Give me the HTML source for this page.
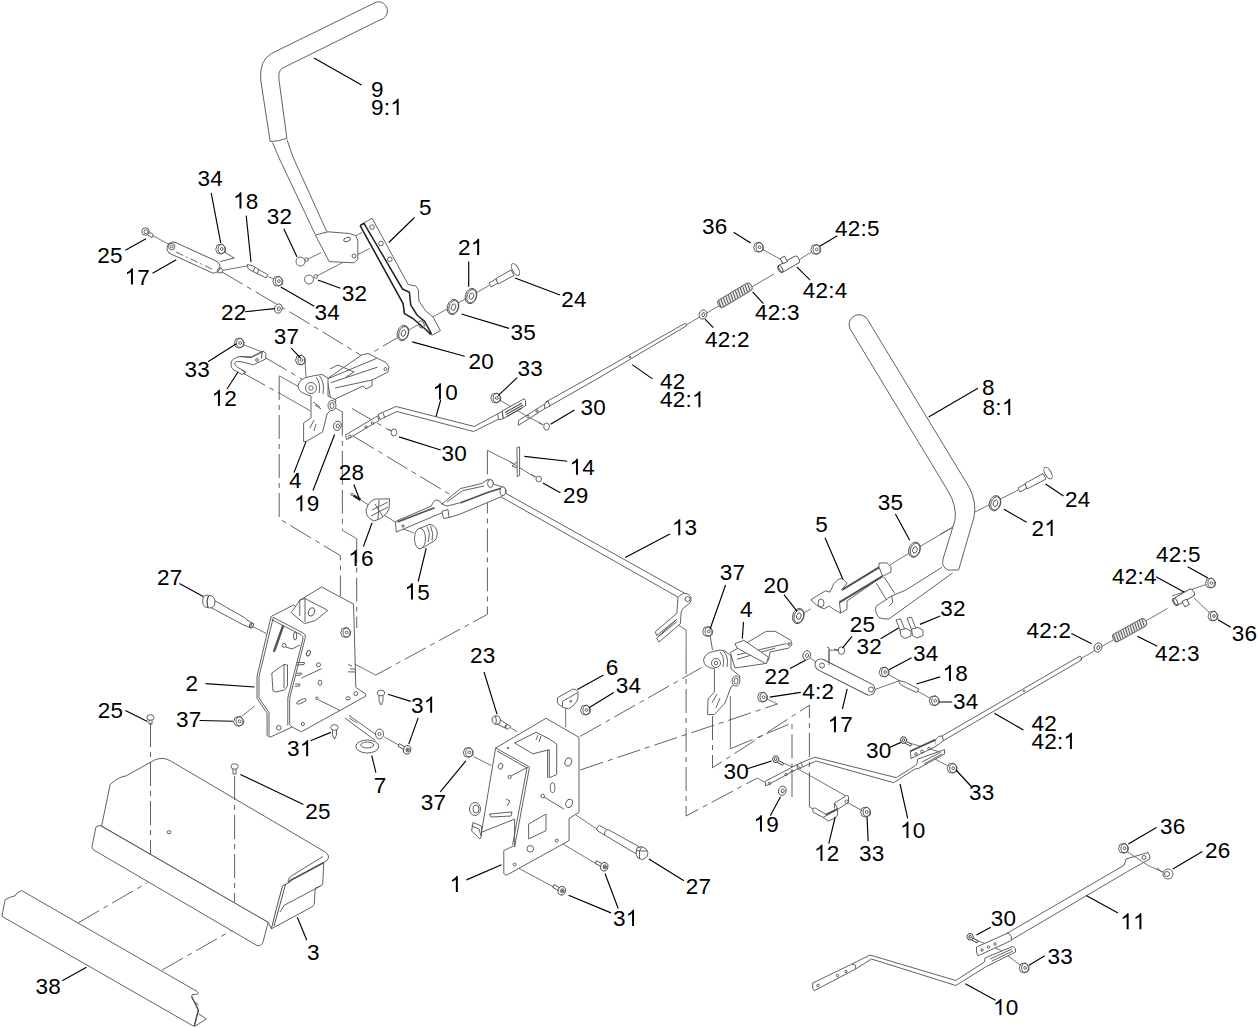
<!DOCTYPE html>
<html><head><meta charset="utf-8"><style>
html,body{margin:0;padding:0;background:#fff;width:1258px;height:1028px;overflow:hidden}
svg{display:block}
.p{stroke:#505050;stroke-width:0.9;fill:none;stroke-linejoin:round}
.d{stroke:#505050;stroke-width:0.9;fill:none;stroke-dasharray:24 5 5 5}
.t{stroke:#505050;stroke-width:0.8;fill:none}
.l{stroke:#000;stroke-width:1.15;fill:none}
text{font-family:"Liberation Sans",sans-serif;font-size:22.5px;letter-spacing:0.25px;fill:#000}
</style></head><body>
<svg width="1258" height="1028" viewBox="0 0 1258 1028">
<defs><path id="one" d="M8.383,0H6.405V-12.601Q5.691,-11.920 4.532,-11.239Q3.373,-10.558 2.450,-10.217V-12.129Q4.109,-12.909 5.350,-14.019Q6.592,-15.128 7.108,-16.172H8.383Z"/><g id="nut" stroke="#505050" stroke-width="0.9"><path d="M-5,0.5 L-3.5,-4 L1.5,-5 L5,-1 L4.5,3 L0.5,5 L-3.5,4 Z" fill="#fff"/><ellipse cx="0.8" cy="0" rx="3.4" ry="4.4" fill="none"/><circle cx="1" cy="0" r="1.4" fill="none"/></g>
<g id="wb" stroke="#505050" stroke-width="0.9" fill="none"><ellipse rx="5.6" ry="7.8" fill="#fff" transform="rotate(18)"/><ellipse cx="0.6" rx="4.6" ry="6.8" transform="rotate(18)"/><ellipse cx="0.5" rx="2.2" ry="3.3" transform="rotate(18)"/></g>
<g id="ws" stroke="#505050" stroke-width="0.9" fill="none"><ellipse rx="3.8" ry="4.7" fill="#fff" transform="rotate(18)"/><ellipse cx="0.4" rx="1.5" ry="2" transform="rotate(18)"/></g>
<g id="pin" stroke="#404040" stroke-width="1"><path d="M2.5,0.5 L8,3.5 L7,5.5 L1.5,2.5 Z" fill="#fff"/><path d="M-3.2,-1 L-1.5,-3.8 L1.8,-3.6 L3.4,-0.6 L1.8,2.4 L-1.5,2.6 Z" fill="#fff"/><circle cx="0" cy="-0.6" r="1.3" fill="none"/></g>
<g id="scr" stroke="#404040" stroke-width="0.9"><path d="M-1.5,-2.5 L-7.5,-5.8 L-8.8,-3.2 L-2.8,0.2 Z" fill="#fff"/><ellipse cx="0.3" cy="0.2" rx="3.6" ry="4.3" fill="#fff" transform="rotate(15)"/><ellipse cx="0.8" cy="0.4" rx="1.7" ry="2.1" fill="none"/><path d="M-0.3,0.4 L1.9,0.4 M0.8,-0.8 L0.8,1.6" fill="none"/></g>
</defs>
<!-- ===== dashed phantom lines ===== -->
<g class="d">
<!-- from 17 through 22 to part4 area -->
<path d="M222,272 L300,318 L362,356"/>
<!-- washer 20 to part4 -->
<path d="M403.5,334 L360.8,359.4"/>
<!-- 12 pin long dashed to rod 10 bracket and beyond -->
<path d="M244,373.7 L278,392.4 M353.4,436.2 L455,497.5"/>
<path d="M266,358 L305,381 M352,408.5 L390,430.5"/>
<!-- left box verticals -->
<path d="M279.2,376 L279.2,518.8 L340.4,555.6 L340.4,596"/>
<path d="M342.3,411.8 L342.4,530.4"/>
<path d="M356.7,538.6 L356.7,628"/>
<!-- right box near 13 -->
<path d="M487.4,450.4 L487.4,614.3 L375.8,675.1"/>
<!-- diagonal from 4 down to 16 area -->
<!-- from plate 2 to right -->
<!-- 25 screws to box 3 -->
<!-- 38 to 3 -->
<path d="M78.4,922.7 L147.3,882.7"/>
<path d="M162.2,970 L231,930.8"/>
<!-- plate 1 to right assembly -->
<path d="M580.3,736.3 L701.4,667.7"/>
<path d="M580.3,769.9 L777.4,704"/>
<!-- big right dashed boxes -->
<path d="M686.1,650 L686.1,816 L757.3,778"/>
<path d="M712.5,716 L712.5,767.8 L809.4,705.2 L809.4,786"/>
<path d="M730.4,748.8 L792,723 L792,797"/>
<path d="M955,525.9 L940,534.5"/>
<!-- 42:1 lower bracket to 12 lower -->
</g>
<!-- ===== thin axis lines ===== -->
<g class="t">
<path d="M153.2,235.9 L168.7,244.2"/>
<path d="M222.4,270.4 L248.6,265.7"/>
<path d="M267.7,276.4 L277,280.5"/>
<path d="M307.7,259.2 L321.2,252.5 M354,236.8 L362,232.4"/>
<path d="M316.8,276 L342.3,262.8 M357.8,254.5 L369.7,248.5"/>
<path d="M403,333 L449,308 M458,303 L467,298 M476,293 L489,285.5"/>
<path d="M239.2,343 L265.7,353.4"/>
<path d="M305,362 L307,392"/>
<path d="M487.4,450.4 L513.6,463.6"/>
<path d="M279.2,375.8 L298,386.3"/>
<path d="M278,392.4 L310.3,410.8"/>
<path d="M334.8,407.7 L342.7,412.1"/>
<path d="M360.2,499.6 L395,522"/>
<path d="M401,528 L414,533"/>
<path d="M498,399 L529,417.4 L542,424"/>
<path d="M510,462 L535,477"/>
<path d="M686,325 L774,274"/>
<path d="M758.6,247.2 L780,259 M797,261 L815.8,249.4"/>
<path d="M252,626.3 L266.4,633.5"/>
<path d="M241.5,716.5 L254.7,706"/>
<path d="M350,661.6 L375.8,675.1"/>
<path d="M342.4,530.4 L356.7,538.6"/>
<path d="M384.3,737 L401.5,746.5"/>
<path d="M349,718 L357,723"/>
<path d="M510.3,727.5 L517.5,732"/>
<path d="M473.8,756.7 L491.3,765.5"/>
<path d="M565.7,707 L565.7,727.5"/>
<path d="M575.9,815 L597.8,829.7"/>
<path d="M558.4,841.4 L597.8,864.7"/>
<path d="M517.5,867.6 L555.5,888"/>
<path d="M798.3,616 L810.7,609 M821.5,603.4 L880,570 M890,565 L914.5,549.7 L955,525.9 M975,512 L1018.2,490"/>
<path d="M806.7,655.4 L818.6,663.7"/>
<path d="M765,698 L777.4,704"/>
<path d="M678.8,625.3 L686.1,630 L686.1,650"/>
<path d="M757.3,778 L765.1,782.4"/>
<path d="M730.4,696 L730.4,748.8"/>
<path d="M841.3,650.6 L829,650 L829,665"/>
<path d="M873.4,690 L898.5,681 M884.2,672 L934.3,700.7"/>
<path d="M903.3,741.3 L940,752"/>
<path d="M775.4,759.8 L800,770 L846,796"/>
<path d="M952.2,768.2 L935,759"/>
<path d="M1080.3,659 L1167.5,608.4"/>
<path d="M1172,596 L1210.5,583"/>
<path d="M1194,598 L1213,616"/>
<path d="M1123.2,849 L1149,866 L1167.8,874.1"/>
<path d="M970.1,937.4 L1000,950 L1024.2,967.9"/>
</g>
<g class="p">
<!-- ===== Handle 9 ===== -->
<path d="M376.7,1.9 L271.8,53.3 Q259,60.5 260.7,80 L270.2,141.5 Q279,141.5 286.9,138.3 L279,80 Q278,71 282,68.4 L380,19.9 A9,9 0 0 0 376.7,1.9 Z" fill="#fff"/>
<path d="M272.5,142.5 Q276,151 280,160 L315,234"/>
<path d="M287,139.5 Q290,149 293,157 L326.8,231.8"/>
<!-- bracket at bottom of handle 9 -->
<path d="M315.3,235 L328,231.8 L349.4,233.5 L355.4,235.4 L357.8,240 L357.8,259.2 L354.2,262.8 L329.2,261.6 Z" fill="#fff"/>
<ellipse cx="347" cy="239.5" rx="3.5" ry="2" transform="rotate(-20 347 239.5)"/>
<circle cx="354" cy="256" r="2"/>
<!-- ===== Part 5 top bar ===== -->
<path d="M360.1,225.2 L372.1,218.2 L408.2,284.6 L415.7,285.9 L418.3,289.6 L418.9,301 L425.9,311.1 L433.4,317.5 L440.4,330.7 L432.2,335.2 L430.9,334.5 L424,328 L413.2,318.7 L404.4,313.7 L403.1,303.6 Z" fill="#fff"/>
<path d="M360.1,225.6 L364,223.3 L402.5,289 L409.4,292.2 L410.7,304.8 L417,315 L424.6,321.3 L431.5,333.8 M360.1,225.6 L403.1,303.6 L404.4,313.7 L413.2,318.7 L424,328 L430.9,334.5" stroke="#222" stroke-width="1.5"/>
<circle cx="372.1" cy="227.1" r="2.3"/><circle cx="381" cy="243.5" r="2.3"/><circle cx="389.8" cy="259.3" r="2.3"/>
<ellipse cx="421.4" cy="324.4" rx="2.6" ry="3.6" transform="rotate(-25 421.4 324.4)"/>
<!-- washers 20 35 21 -->
<use href="#wb" x="403" y="333"/>
<use href="#wb" x="453" y="307"/>
<use href="#wb" x="471" y="296"/>
<!-- bolt 24 -->
<path d="M489,283 L496,279 L498,283 L491,287 Z" fill="#fff"/>
<path d="M496,278.5 L511,270 L514,275.5 L498,284 Z" fill="#fff"/>
<ellipse cx="515.5" cy="269.5" rx="3" ry="6.5" fill="#fff" transform="rotate(-30 515.5 269.5)"/>
<!-- 32 studs -->
<circle cx="300.5" cy="261.6" r="4.5" fill="#fff"/><circle cx="306.5" cy="259.6" r="1.8"/>
<circle cx="309" cy="279.5" r="4.5" fill="#fff"/><circle cx="315.8" cy="276.5" r="1.8"/>
<!-- ===== 17 top-left cylinder ===== -->
<rect x="-28.5" y="-6.2" width="57" height="12.4" rx="6.2" transform="translate(193.5,257.5) rotate(24.5)" fill="#fff"/>
<path d="M223.5,251.4 L234.3,258 L220,261.6"/>
<circle cx="171.7" cy="246.6" r="3.2"/><circle cx="171.7" cy="246.6" r="1.3"/><circle cx="220" cy="270.5" r="2.6"/>
<path d="M176,252 L214,270" stroke-dasharray="8 3 2 3"/>
<!-- 25 screw -->
<circle cx="145.5" cy="231.6" r="3.8" fill="#fff"/><circle cx="146" cy="231.8" r="2"/><path d="M148.5,231.5 L153.4,234.5 L152,237.5 L148,235.5"/>
<!-- 34 nut top -->
<use href="#nut" x="220.7" y="249"/>
<!-- 18 stud -->
<path d="M247.4,264.5 L253,266 L262,271.5 L267.7,274.5 L266,278 L260,275 L251,270.5 L248,268.5 Z" fill="#fff"/>
<path d="M255,267.5 L253,271.5 M259,269.5 L257,274"/>
<!-- 34 nut -->
<use href="#nut" x="277.9" y="281.2"/>
<!-- 22 washer -->
<use href="#ws" x="278.4" y="308.6"/>
<!-- 33 nut top-left -->
<use href="#nut" x="239.2" y="343"/>
<!-- ===== 12 top-left bracket ===== -->
<path d="M266,353.5 L263,351 L251.3,357 L240,356.5 Q232,358 231,363 Q230.5,367.5 233,369.5 L242,374.5 L245.6,372 L238,367.5 Q234.5,365.5 234.5,363 Q235.5,361 240,361.5 L253.5,364.8 L265.5,359 Z" fill="#fff"/>
<path d="M240,356.5 L251.3,357.5 L263,351.5 M262,352 L261.5,358.5" stroke-width="1"/>
<circle cx="257" cy="360" r="1.4"/>
<path d="M241.5,370 L245.5,372 L244,374.5"/>
</g>
<g class="p">
<!-- ===== Part 4 left ===== -->
<!-- arm -->
<path d="M327,379 L361.7,355 L368,353.5 L386,362.5 L389,367 L388,372 L384,374 L372,380 L372,386 L366,389 L363,386 L331,401 Z" fill="#fff"/>
<path d="M328.6,378.4 L376.3,358.5 M330.6,382.8 L377.3,367.2 M335,388 L372,380"/>
<path d="M330,369 L338,365 L354,372 L346,377"/>
<circle cx="385.5" cy="369" r="1.5"/>
<!-- body plate -->
<path d="M303.6,441.6 L303.6,423 L311,418 L311,396 Q298,393 298,386 Q299,379 308,377 L315,375.5 L322,374.5 L328,378 L328,396 L336,400 L334,407 L327,414 L322.6,432 L306,441.6 Z" fill="#fff"/>
<circle cx="311" cy="388" r="5.5"/><circle cx="311" cy="388" r="2.2"/>
<path d="M316,377 Q321,383 319,393 M319.5,376 Q325,383 323,394"/>
<path d="M313,402 L320,407 M315,405 L321,409"/>
<path d="M310,428 L314,420 M314,431 L316,424"/>
<!-- bushing -->
<ellipse cx="332" cy="405.5" rx="4" ry="5" fill="#fff"/><ellipse cx="332" cy="405.5" rx="2" ry="3"/>
<!-- washer 19 -->
<use href="#ws" x="337.4" y="425.8"/>
<!-- 37 nut top-left -->
<use href="#nut" x="300.5" y="360"/>
<!-- ===== Part 10 left ===== -->
<path d="M345.5,435 L377.7,415.9 L378.9,420.6 L346.7,439.7 Z" fill="#fff"/>
<circle cx="350" cy="436.5" r="1.4"/><circle cx="366" cy="427" r="1.2"/><circle cx="372.5" cy="423" r="1.2"/>
<path d="M378,414.5 L396,406.5 L474.3,426.5 L497.5,413.9"/>
<path d="M380,419.5 L397,411.5 L473.5,431.5 L498.7,419.1"/>
<path d="M378,414.5 L380,419.5 M383,413 L385,418"/>
<!-- right bracket of rod 10 -->
<path d="M497.5,413.9 L502.2,411.6 L503.4,418.6 L498.7,419.7 Z" fill="#fff"/>
<path d="M502.2,411 L524.4,398.7 L525.5,400.4 L525.5,405.7 L503.4,418.5 Z" fill="#fff"/>
<path d="M505,412.5 L522,403 M506,414.5 L523,405 M507,416.5 L522,408" stroke-width="1.1"/>
<!-- pin 30 left -->
<ellipse cx="394" cy="432.5" rx="2.8" ry="3.6" fill="#fff"/><path d="M388,429.5 L392,431"/>
<!-- 33 nut -->
<use href="#nut" x="495.8" y="398"/>
<!-- ===== rod 42:1 upper ===== -->
<path d="M518.4,420.6 L544.6,404 L544.6,408.7 L518.4,425.4 Z" fill="#fff"/>
<circle cx="528" cy="416.5" r="1.2"/><circle cx="537" cy="411" r="1.2"/>
<path d="M544.6,404 L548,401 L550,406 L544.6,408.7"/>
<path d="M545.4,402.2 L600,371.7 L684.7,323.5 Q687,323.5 686.5,325.8 L600,377.2 L549,406.3"/>
<circle cx="630" cy="357" r="0.8"/>
<!-- pin 30 right -->
<ellipse cx="546.5" cy="426.6" rx="2.8" ry="3.6" fill="#fff"/><path d="M539,423 L543.5,425"/>
<!-- 14 -->
<path d="M517,447.5 L519.6,446.9 L519.6,475.5 L517.2,476.7 Z" fill="#fff"/>
<path d="M517,462 L512,466 L517,468"/>
<!-- 29 screw -->
<circle cx="538.7" cy="479" r="2.8" fill="#fff"/><path d="M531,474.5 L536,477"/>
<!-- ===== spring / cable top ===== -->
<use href="#ws" x="703" y="314.5"/>
<g transform="translate(719.5,304.5) rotate(-31)">
<rect x="-1" y="-4.3" width="38" height="8.6" rx="3.5" fill="#e6e6e6" stroke="#606060"/>
<path d="M1.2,-4 L-0.3,4 M4.0,-4 L2.5,4 M6.8,-4 L5.3,4 M9.6,-4 L8.1,4 M12.4,-4 L10.9,4 M15.2,-4 L13.7,4 M18.0,-4 L16.5,4 M20.8,-4 L19.3,4 M23.6,-4 L22.1,4 M26.4,-4 L24.9,4 M29.2,-4 L27.7,4 M32.0,-4 L30.5,4 M34.8,-4 L33.3,4" stroke="#505050" stroke-width="0.9"/>
</g>
<g transform="translate(789,264) rotate(-30)">
<rect x="-11" y="-4" width="22" height="8" rx="3" fill="#fff"/>
<ellipse cx="-10" cy="0" rx="2" ry="4"/>
<rect x="-5" y="-9" width="5" height="6" fill="#fff"/>
</g>
<use href="#nut" x="758.6" y="247.2"/>
<use href="#nut" x="815.8" y="249.4"/>
<!-- ===== Handle 8 ===== -->
<path d="M849.9,328.6 L948,491 Q957,506 955,520 L943,559 Q941,567 948,570 L958.6,570 L974,517 Q977,502 969,487 L868.2,320.7 A9.3,9.3 0 0 0 849.9,328.6 Z" fill="#fff"/>
<path d="M942,567.3 L905.6,590.2 L891.6,596 L876.3,606.1 Q874,611 878.9,617.6 L884,618.9 L889,618.9 L952.6,573"/>
<path d="M891.6,596 L892.8,602.3 L889,606"/>
<path d="M876.3,583.2 L886.5,599.8 M884,576.9 L894.8,593.4"/>
<!-- bolts 32 right -->
<path d="M896,620 L900.5,618.9 L905,630 L900.5,631 Z" fill="#fff"/>
<path d="M900,630 L906,628.5 L911,631 L911,636 L905,638.5 L901,636 Z" fill="#fff"/>
<path d="M907,618 L911.5,617.2 L916,628.5 L911.5,629.5 Z" fill="#fff"/>
<path d="M911.5,629 L918,627.5 L923,630 L923,635.5 L917,638 L912.5,635.5 Z" fill="#fff"/>
<!-- ===== Part 5 right ===== -->
<path d="M810.8,599.8 L819,594.7 L825.4,590.9 L830,592.1 L833.7,583.9 L838.2,579.4 L842,578.2 L847,583.2 L842,589.6 L879,567.3 L879,563 L887,562.9 L891,567 L891,572 L882.7,576.2 L847,601 L847,609.3 L840.7,613.1 L833.7,609.3 L829.3,606.1 L824.2,608.7 L820.3,607.4 L816.5,604.9 Z" fill="#fff"/>
<path d="M842,590 L879,567.3 M839.4,602.3 L882.7,576.2" stroke-width="2"/>
<path d="M879,567.3 L882.7,576.2 M839.4,602.3 L840.7,613.1"/>
<ellipse cx="821" cy="603" rx="3" ry="4"/>
<!-- washers right -->
<use href="#wb" x="914.5" y="549.7"/>
<use href="#wb" x="995" y="503.2"/>
<!-- bolt 24 right -->
<path d="M1018,488 L1025,484 L1027,488 L1020,492 Z" fill="#fff"/>
<path d="M1025,483.5 L1043,473.5 L1046,479 L1027,489 Z" fill="#fff"/>
<ellipse cx="1048" cy="473" rx="3" ry="6.5" fill="#fff" transform="rotate(-30 1048 473)"/>
</g>
<g class="p">
<!-- ===== Part 13 rod ===== -->
<path d="M500,490.1 L684.4,593.1 M500,496.3 L678,597.1"/>
<path d="M678,597.5 L676.8,613.4 L655.4,631.7 L656.6,635.6 L676.5,619.5 L656.6,638 L659,642 L680.4,623.7 L681.2,611.8 L682.8,608.6 L690,603 Q693,597 688,594 Q682,592 678,597.5 Z" fill="#fff"/>
<circle cx="687.6" cy="599.1" r="2.5"/>
<path d="M658,637 L677,621.5"/>
<!-- ===== 13 bracket assembly ===== -->
<path d="M395.3,521.7 L397.4,520.6 L431.5,506 Q433,500 437,500 Q441,501 441.8,504.1 L460.4,488.6 L482.1,483.4 L488.3,479.3 Q493,479 493.5,484 L503.8,487.6 Q507,489 505.9,493 L500.7,496.9 L459.4,514.4 L449,517.5 L442.9,512.4 L396.4,532 Z" fill="#fff"/>
<path d="M397.4,522 L434.6,507.7 M460,503 L488.3,492.2 L503.8,487.6" stroke-width="1.6"/>
<path d="M447,502 L462.5,490.7 L484,486 M441.8,504.1 L447,506 L459.4,503"/>
<ellipse cx="490.4" cy="483.6" rx="2.8" ry="4" fill="#fff"/><ellipse cx="502.8" cy="491.2" rx="2.8" ry="4.3" fill="#fff"/>
<path d="M441.8,511.3 L448,509.5 L449,517.5 L443.5,518.5 Z" fill="#fff"/>
<circle cx="403" cy="526" r="1.2"/>
<!-- 16 knob -->
<path d="M368,505 Q372,498 380,499 L389.6,498.8 L389,509 Q385,518 374,521 Q366,518 366,510 Z" fill="#fff"/>
<path d="M372,510 L388,502 M375,504 L383,517 M371,516 L388,507 M379,500 L378,520"/>
<!-- 28 screw -->
<path d="M353.5,495.5 L360.5,499.8" stroke-width="2.6" stroke="#222"/><circle cx="352" cy="494.5" r="1.2"/>
<!-- 15 cap -->
<path d="M420,528.2 L430,524.3 Q437.3,526 437.3,534 Q437,541 430,543.3 L423,548" fill="#fff"/>
<ellipse cx="420" cy="538.5" rx="5.5" ry="10.3" fill="#fff"/>
<path d="M427,527 Q431,533 428,542 M430.5,526 Q434,533 432,541"/>
<!-- ===== Part 2 ===== -->
<path d="M271,616.6 L293.6,604.9 L296.7,607.2 L299.8,600.2 L321.6,587 L353.5,604.1 L354.3,629.8 L355.8,687.4 L365.2,693.6 L366,696 L301.4,731.8 L292,727 L270.2,737.2 L267.1,735.6 L267.1,713.1 L257,698.3 L257,676.5 Z" fill="#fff"/>
<path d="M273.3,617.4 L259,676.5 L259,698 L269,712.5 L269,735.5"/>
<path d="M273.3,617.4 L302.9,632.9 Q306,634.5 305.3,637.5 L292,689 L289.7,698.3 L289.7,724.7 L292,727"/>
<path d="M271.5,619.5 L301,634.8 Q303.5,636.3 303,639 L290,689 L287.8,698 L287.8,725.5"/>
<path d="M291.2,612.7 L299.8,600.2 L305,598.5 L327.8,610.4 L315.4,620.5 L304.5,623.6 Z" fill="#fff"/>
<path d="M299.8,600.2 L299.8,616 M305,598.5 L305,622"/>
<ellipse cx="311.5" cy="611.9" rx="3" ry="4.3" transform="rotate(20 311.5 611.9)"/>
<path d="M273.3,651.6 L282.7,625.1 M274.5,652 L283.8,625.5" stroke-width="1.2"/>
<ellipse cx="295.1" cy="636" rx="1.6" ry="4"/>
<circle cx="284.2" cy="645.4" r="2"/><path d="M286,647 L292,649 L300,645"/>
<ellipse cx="308.4" cy="653.2" rx="1.8" ry="2.8" transform="rotate(25 308.4 653.2)"/>
<circle cx="318.5" cy="664.8" r="2"/><ellipse cx="320" cy="682.7" rx="1.8" ry="2.6"/>
<ellipse cx="301.4" cy="701.4" rx="5" ry="1.6" transform="rotate(-25 301.4 701.4)"/>
<circle cx="316.9" cy="698.3" r="1.3"/><ellipse cx="348" cy="698.3" rx="2.2" ry="1.6"/><circle cx="302.9" cy="724" r="1.6"/><circle cx="355.8" cy="693.6" r="2"/>
<path d="M296.7,662.5 L304.5,662.5 L304,664.5 L296.5,665 M296.7,673.4 L301.4,673 L301,675 L296.3,675.5 M295.1,684.3 L299.8,684 L299.5,686 L294.8,686.5"/>
<path d="M271.8,673 L284,664.5 L287.5,665 L287.5,686 L284.5,690 M271.8,673 L273,691 L276,692 L284.5,690 M284,664.5 L284,688"/>
<path d="M348,664.5 L352,666 M350,669 L355.8,669 M348,671.8 L355.8,672"/>
<path d="M301.4,678 L321.6,668.7 M318.5,699.8 L340.3,710.7"/>
<circle cx="278.8" cy="727.8" r="2.3"/>
<use href="#nut" x="345.7" y="632.5"/>
<!-- 27 bolt left -->
<path d="M214.8,600.8 L245.3,618 L246,619.3 L252,622.8 L250.5,627.8 L249,627.2 L242.1,624.3 L209.1,606.5 Z" fill="#fff"/>
<ellipse cx="251.5" cy="625.5" rx="1.8" ry="2.6" transform="rotate(25 251.5 625.5)"/>
<path d="M203,598 Q204,595 207,595 L212,596 Q215,598 215,601 L214.5,605 Q213,608 210,608 L205,607 Q202.5,605 202.7,601 Z" fill="#fff"/>
<path d="M208.5,596 Q206,601 208,607.5" stroke-width="1.3"/>
<!-- 37 nut left -->
<use href="#nut" x="238.7" y="721.3"/>
<!-- 31 screws -->
<ellipse cx="380.9" cy="693" rx="3.8" ry="2.8" fill="#fff"/><path d="M379,696 L379,701 L381,705 L383,701 L383,696"/>
<ellipse cx="334.4" cy="727.5" rx="3.8" ry="2.8" fill="#fff"/><path d="M332.5,730 L332.5,735 L334.5,739 L336.5,735 L336.5,730"/>
<use href="#scr" x="406.9" y="749.5"/>
<!-- 7 eye bolt -->
<path d="M344.9,717.9 L375.3,740.5 M349,715.5 L378,736"/>
<ellipse cx="367.3" cy="746.5" rx="11.5" ry="6.5" fill="#fff"/><ellipse cx="367.3" cy="745" rx="6.5" ry="3"/>
<ellipse cx="379.5" cy="734" rx="4" ry="5" fill="#fff"/><circle cx="379.5" cy="734" r="1.5"/>
<!-- 25 screws -->
<ellipse cx="150.5" cy="717.5" rx="3.6" ry="2.8" fill="#fff"/><path d="M149,720 L149,724 L152,724 L152,720"/>
<ellipse cx="234.6" cy="766.5" rx="3.6" ry="2.8" fill="#fff"/><path d="M233,769 L233,774 L236,774 L236,769"/>
<!-- ===== Box 3 ===== -->
<path d="M110.2,784.4 Q118,777 126,775.9 L154.5,760.1 Q163,756 171.7,761.6 L324.9,851.8 Q331,856 327,860.3 L323.8,862.5 L322.8,882.8 Q322,886 320.6,886 L315.3,888.2 L314.2,904.2 Q313,907 311,907.4 L271.4,928.8 L268.2,922.4 L101.6,826 Z" fill="#fff"/>
<path d="M96,826.8 L100,825.4 L268.2,922.4 L262.8,942.7 Q261,946.5 257,945.5 L93.2,849.7 L91.9,847 Z" fill="#fff"/>
<path d="M323.8,862.5 L296,877.5 Q290,880 288.5,882.8" stroke-width="1.7"/>
<path d="M322.8,856.6 L290.7,876.4 Q288,879 288,881.7"/>
<path d="M320.6,886 L284.2,905.3"/>
<path d="M288.5,882.8 L282.5,886 L276,910 L271.4,928.8 M285.5,884.5 L279,908 L274,926" stroke-width="1"/>
<path d="M284.2,905.3 L280,912"/>
<ellipse cx="169" cy="832.2" rx="2" ry="1.5"/>
<!-- ===== Rail 38 ===== -->
<path d="M21.5,890.5 L197,991.4 Q199.5,993.5 197.6,994.2 L196.3,994.4 L192.4,994.4 L191.7,996.7 L196.3,1005.7 L198.3,1010.3 L196.3,1018.2 L194.3,1026.2 L192.4,1025.5 L1.9,916.3 L5.2,899.6 L10.5,897.2 L15.3,895.7 L16.7,893.4 Z" fill="#fff"/>
<path d="M191.7,996.7 L196.3,1005.7 L198.3,1010.3 L196.3,1018.2 L194.3,1026.2" stroke-width="1.4"/>
<path d="M198.3,1013.6 L206.3,1018.9 L195,1026.2"/>
<path d="M195.7,1002 L198.6,1005.5"/>
</g>
<g class="d"><path d="M150.5,723 L150.5,854"/><path d="M234.6,776 L234.6,902"/></g>
<g class="p">
<!-- ===== Part 1 ===== -->
<path d="M495.6,748 L546,718.3 L579,737.3 L579,812.5 L569.1,818.3 L569.1,840.6 L506.3,875.3 L503.8,873.6 L503.8,850.5 L514.6,845.5 L514.6,819.1 L481.5,832.3 Z" fill="#fff"/>
<path d="M481.5,826 L473,822.5 L471.6,831 L479.9,839 L481.5,836 Z" fill="#fff"/>
<path d="M495.6,748 L529.5,767 L514.6,847.2 M497,751 L527,768 L512.5,845"/>
<path d="M489.5,814 L512,812 L511,816 L491,817 Z"/>
<path d="M514.6,743 L536.1,732.3 L549.3,738.9 L556.7,744 L556.7,774.5 L549.3,777.8 L549.3,749.7 L532.8,753.8 Z" fill="#fff"/>
<path d="M547.6,749.7 L547.6,777.8 M536,740 L538,735 M539,742 L541,736"/>
<ellipse cx="552.6" cy="787.7" rx="2.3" ry="5" fill="#fff"/>
<ellipse cx="568.3" cy="762" rx="3.2" ry="4.3" transform="rotate(20 568.3 762)"/>
<ellipse cx="569.1" cy="803.4" rx="3.2" ry="4.3" transform="rotate(20 569.1 803.4)"/>
<circle cx="542.7" cy="796" r="1.8"/><path d="M544,797 L564.2,809.2"/>
<ellipse cx="500.5" cy="766.2" rx="2.2" ry="3" transform="rotate(20 500.5 766.2)"/><circle cx="509.6" cy="777" r="1.6"/><path d="M511,776 L528,767"/>
<circle cx="530.3" cy="848.8" r="3.3"/><circle cx="556.7" cy="840.6" r="1.5"/><circle cx="514.6" cy="864.5" r="1.5"/><circle cx="508" cy="748" r="0.8"/>
<path d="M528.6,824 L546,814.1 L546,830.7 L528.6,838.9 Z"/>
<path d="M507,806 L510,801 L506,799"/>
<ellipse cx="475" cy="809" rx="5.5" ry="6.5" fill="#fff"/><ellipse cx="476" cy="809" rx="3" ry="4"/>
<path d="M471.6,826 L479,829 L481,836"/>
<!-- 23 screw -->
<path d="M499.3,719.2 L510.7,726.5 L508.1,729.4 L496.7,724 Z" fill="#fff"/><path d="M506.5,724.5 L505,727.8" stroke-width="1.6"/><path d="M492,718 L495,715.8 L499,716.5 L500.5,720 L499.5,723.5 L495.5,724.5 L492.3,722 Z" fill="#fff"/><path d="M495,715.8 L496.5,720 L495.5,724.5"/>
<!-- 37 nut middle -->
<use href="#nut" x="468.3" y="752.4"/>
<!-- 6 -->
<path d="M557.4,697.9 L572.7,689.1 Q577,689 578.1,691.8 Q578.5,698 576.8,701.3 Q573,707 568.6,708.8 L563.2,707.5 L557.7,703.4 Z" fill="#fff"/>
<path d="M562.5,701.3 L577.5,692.8 M562.5,701.3 L562.5,706.8"/><circle cx="570.7" cy="701.3" r="1"/>
<!-- 34 nut -->
<use href="#nut" x="585.5" y="710"/>
<!-- 27 bolt right -->
<path d="M599.5,825.3 L606.7,829.5 L608.4,829.7 L639,846.7 L636.2,853.9 L604.5,835 L597.8,831.1 Q595.5,828 599.5,825.3 Z" fill="#fff"/>
<path d="M606.7,829.5 Q604,832 604.5,835"/>
<path d="M637,848 L642,846.5 L646.5,849.5 L648,853 L646.8,857 L642.5,859.8 L638,858 L636,854 Z" fill="#fff"/>
<path d="M642,846.5 L639.5,851 L639.5,858.5 M637,850.5 L639.5,851 L647.5,851"/>
<!-- 31 screws bottom -->
<use href="#scr" x="604" y="866.5"/>
<use href="#scr" x="561.5" y="890.5"/>
<!-- ===== Part 4 right ===== -->
<path d="M730.4,652.6 L766.2,631.3 L775.2,631.3 L790.8,640.3 L792,644.8 L788.6,648.1 L770,652 L768.5,660.4 L764,663.8 L734.9,668 Z" fill="#fff"/>
<path d="M737,654.8 L786.4,643.6 M737,659.3 L775.2,648.1"/>
<path d="M734.9,643.6 L743.8,640.3 L768.5,657.1 L766.2,663.8 L737.1,648.1 Z" fill="#fff"/>
<path d="M707.6,714.6 L708,699 L714.4,692 L714.4,668.5 Q704,668 703.5,660 Q705,653 713,651.5 L720,650 L725,651 L731,656 L731,669 L740,676 L738,682 L731,687 L725,703 L714.4,714.6 Z" fill="#fff"/>
<circle cx="716" cy="663" r="4.5"/><circle cx="716" cy="663" r="1.8"/>
<path d="M720,652 Q725,657 723,667 M723.5,651 Q729,657 727,667"/>
<ellipse cx="736" cy="681" rx="4" ry="5" fill="#fff"/><ellipse cx="736" cy="681" rx="2" ry="3"/>
<path d="M712,703 L717,694 M716,708 L720,698"/>
<circle cx="789" cy="644" r="1.3"/>
<!-- 37 nut right -->
<use href="#nut" x="707.7" y="631.5"/>
<path d="M710,635 L712.5,650"/>
<!-- washer 20 right -->
<use href="#wb" x="798.3" y="616"/>
<!-- 22 washer -->
<use href="#ws" x="806.7" y="655.4"/>
<!-- 25 screw right -->
<ellipse cx="841.5" cy="650.6" rx="3.3" ry="3.8" fill="#fff"/><path d="M834,649 L838.5,650"/>
<!-- 17 right cylinder -->
<rect x="-33" y="-5.8" width="66" height="11.6" rx="5.8" transform="translate(845,677) rotate(27)" fill="#fff"/>
<circle cx="822" cy="665.5" r="2.5"/><circle cx="871" cy="689.5" r="2.5"/>
<path d="M829,665 L829,648 L827,647"/>
<!-- 34 nut right -->
<use href="#nut" x="884.2" y="672"/>
<!-- 18 stud right -->
<path d="M898.5,680.5 L905,682 L913,686 L918.8,689 L917,692.4 L911,690 L903,686 L900,684 Z" fill="#fff"/>
<!-- 34 nut lower right -->
<use href="#nut" x="934.3" y="700.7"/>
<!-- 4:2 nut -->
<use href="#nut" x="762.6" y="697.1"/>
<!-- ===== Part 10 right ===== -->
<path d="M765.2,781.4 L797,764.6 L797.5,768.8 L765.7,786 Z" fill="#fff"/>
<circle cx="769.5" cy="783.5" r="1.3"/><circle cx="786" cy="774.5" r="1.2"/><circle cx="792" cy="771" r="1.2"/>
<path d="M797,764.6 L802,762.3 L814.8,757.2 L896.2,777.6 L916.6,764.9"/>
<path d="M797.5,768.8 L804.6,766.1 L816.1,761 L893.7,782.7 L915.3,768.7"/>
<path d="M797,764.6 L801,769 M801,762.5 L803,767"/>
<path d="M916.6,764.9 L917.9,759 L944.6,749.6 L944.6,754 L917.9,768.7 L915.3,768.7" fill="#fff"/>
<path d="M922,762 L941,752 M924,764 L942,754"/>
<!-- 42:1 bracket right lower -->
<path d="M910.3,751.3 L935.6,739.6 L936.5,746 L911,758.6 Z" fill="#fff"/><path d="M910.3,751.3 L935.6,739.6" stroke-width="1.8"/>
<circle cx="916" cy="754" r="1.3"/><circle cx="922" cy="751.5" r="1.4"/><circle cx="929" cy="748.5" r="1.3"/>
<path d="M935.6,739.6 L938.5,736.5 L942.3,735.8 L943.4,740.6 L936.5,746" fill="#fff"/>
<path d="M942.3,735.8 L1080,656 Q1082,657 1081.5,660 L943.4,740.6"/>
<circle cx="1024" cy="691" r="0.8"/>
<!-- pins & nuts -->
<use href="#pin" x="903.5" y="740.7"/>
<use href="#pin" x="775.6" y="759.8"/>
<use href="#nut" x="952.2" y="768.2"/>
<use href="#ws" x="782.3" y="790.8"/>
<use href="#nut" x="865.7" y="812"/>
<!-- 12 right -->
<path d="M809.4,786 L809.4,806.9 L812.9,809.1"/>
<path d="M812.9,809.1 Q813,807.5 815.4,808.2 L826.2,814.5 L837.7,808.8 L834.5,803.1 L846.6,795.4 Q848.5,795.5 848.5,796.7 L848.5,802.4 L837.7,809.4 L837.4,815.5 L833.2,819 L828.2,820.9 L823.1,817.4 L812.9,812 Z" fill="#fff"/>
<path d="M823.1,817.4 L837.7,809.4 M834.5,803.1 L834.5,808.5"/>
<path d="M826.2,814.5 L837.7,808.8" stroke-width="1.8"/>
<circle cx="846.6" cy="801.6" r="1.6"/>
<path d="M848.5,803.1 L862,810.6"/>
<!-- ===== Spring right ===== -->
<use href="#ws" x="1098" y="647.5"/>
<g transform="translate(1114.4,638.7) rotate(-29.3)">
<rect x="-1" y="-4.3" width="37" height="8.6" rx="3.5" fill="#e6e6e6" stroke="#606060"/>
<path d="M1.2,-4 L-0.3,4 M3.9,-4 L2.4,4 M6.6,-4 L5.1,4 M9.3,-4 L7.8,4 M12.0,-4 L10.5,4 M14.7,-4 L13.2,4 M17.4,-4 L15.9,4 M20.1,-4 L18.6,4 M22.8,-4 L21.3,4 M25.5,-4 L24.0,4 M28.2,-4 L26.7,4 M30.9,-4 L29.4,4 M33.6,-4 L32.1,4" stroke="#505050" stroke-width="0.9"/>
</g>
<g transform="translate(1184,597) rotate(-30)">
<rect x="-11" y="-4" width="22" height="8" rx="3" fill="#fff"/>
<ellipse cx="-10" cy="0" rx="2" ry="4"/>
<rect x="-4" y="3" width="5" height="6" fill="#fff"/>
</g>
<use href="#nut" x="1210.5" y="583"/>
<use href="#nut" x="1213" y="616"/>
<!-- ===== Part 11 ===== -->
<path d="M976.5,947 L1008,933 L1011.4,936.7 L1011.4,940.5 L978,955.8 L976.5,952 Z" fill="#fff"/>
<circle cx="982" cy="950" r="1.2"/><circle cx="988.5" cy="947" r="1.3"/><circle cx="995" cy="944" r="1.2"/>
<path d="M1006.7,933.5 L1124.3,865.2 M1011.4,939.9 L1127.5,871.5"/>
<path d="M1124.3,865.2 L1126,859 L1148,852.5 L1149.8,856 L1149.8,859 L1127.5,871.5"/>
<circle cx="1144" cy="857.5" r="2"/>
<use href="#nut" x="1123.5" y="848.3"/>
<path d="M1157,868 L1162,872"/><circle cx="1168" cy="874" r="5" fill="#fff"/><circle cx="1167" cy="874" r="2.5"/>
<use href="#pin" x="970.1" y="937.4"/>
<use href="#nut" x="1024.2" y="967.9"/>
<!-- ===== Part 10 bottom ===== -->
<path d="M812.7,983 L852,964 L855.6,965.3 L855.6,969 L814,990.8 L812.7,988 Z" fill="#fff"/>
<circle cx="818" cy="985.5" r="1.3"/><circle cx="837.5" cy="975.5" r="1.2"/><circle cx="846" cy="971.5" r="1.2"/>
<path d="M852,964 L870,955 L955.8,980.5 L984.4,962"/>
<path d="M855.6,969 L871.5,959 L955.8,985.5 L985.5,967"/>
<path d="M984.4,962 L985,958 L1013,946.3 L1015.5,949 L1015.5,952 L985.5,967" fill="#fff"/>
<path d="M990,959 L1012,949 M992,961 L1013,951"/>
</g>

<path class="l" d="M314,58L361.6,85 M211.2,192.9L220.7,243 M246.2,215.6L251,262 M283.8,228.7L297,256.9 M125.3,250.2L146,238.7 M152.5,273.3L176.3,259.7 M317.8,280L340.4,288.3 M245,311.7L274.8,308.6 M280.8,287.1L314.2,306.2 M291.2,348.1L300.7,358.2 M388.8,242.5L414.5,217.5 M468.7,261.6L468.7,286.7 M515,278L560,295 M461.5,314L509,328.4 M412.3,341.9L464.7,356.2 M208,361.7L236.3,343.8 M227,389L238,372 M294,472.6L306,441.6 M313,490.5L334.6,434.5 M436,416.6L440.7,400 M399,436.9L440.7,450 M353.8,484.5L359.4,498.8 M517.2,377.7L498.1,395.6 M574.5,409.9L550.6,424.2 M524.4,456.4L567.3,461.2 M542.9,483.1L560.4,492.8 M733.6,232.2L750.7,243 M819.4,246.5L837.3,235.8 M796.8,266.8L809.9,279.9 M752.6,291.8L763.4,303.7 M705,319.2L713.3,327.6 M632.2,364.6L652.5,378.9 M928.6,416.9L977.9,388.2 M825,537.8L843,579.5 M895.4,514L909.7,540.2 M1004,509.2L1026.6,522.3 M1045.6,484L1063.5,496 M625.2,557.6L669.9,533.9 M372.1,522.7L363.4,546.5 M426.2,548.1L418.2,581.5 M179.4,583.4L203.2,596.5 M205.6,683.6L254.5,687 M199.6,720.5L233,721.2 M388,694.3L410.7,701.4 M310.5,740.8L330.8,732.4 M371.7,755.4L375.9,772.7 M408.7,744.1L418.2,717.9 M465.9,760.8L440.3,791.8 M125.4,710.6L147.4,721.5 M240.4,774.4L303.4,804.5 M297.3,917.3L306.8,940.3 M62.2,980.8L86.5,967.3 M484,672L497.1,714.4 M577.4,689.6L603.6,675 M589,707.7L613.8,692.5 M466.5,879.9L501.5,864.7 M648.9,858.9L683.9,880.8 M605,873.5L618.2,908.5 M568.6,895.3L611,912.9 M710,629.2L725.6,585 M742.3,638.7L743.5,622 M784,594.6L797.1,611.3 M790,668.5L805.5,660.2 M842.4,648.2L852,636.3 M847.2,688.8L842.4,709 M769.7,697.1L800.7,692.4 M889,669.7L911.6,657.8 M916.4,684L940.2,676.9 M939,702L952,702 M890,747.2L900.9,742.4 M880.6,638.7L898.5,628 M920,624.4L940.2,616 M747.4,768.7L771.6,761 M956,770L971.3,786.5 M780.5,796.7L770.3,815.7 M835.2,817L828.8,843.7 M867,817L868.2,841.2 M900,784L907.7,818.3 M1187.7,566.7L1208,578 M1156,576.8L1184,592 M1218,619.7L1230.7,627.3 M1137.2,636.2L1157.4,646.3 M1071.4,633.6L1091.7,643.8 M994.3,713.3L1023.4,730 M1128.3,844L1156.5,827.6 M1172.8,869L1202.4,851.5 M1086.2,895.4L1118,912.9 M976.5,935.1L990.8,927.2 M1029,965.3L1044.8,955.8 M965.3,983.8L995.5,1000.3"/>
<g><text x="371" y="96.8">9</text><text x="371" y="115">9:</text><use href="#one" x="390.26" y="115"/><text x="197.5" y="185.8">34</text><use href="#one" x="233.05" y="208.5"/><text x="245.81" y="208.5">8</text><text x="266.7" y="224">32</text><text x="97.3" y="262.5">25</text><use href="#one" x="124.55" y="284.5"/><text x="137.31" y="284.5">7</text><text x="341.8" y="300.5">32</text><text x="220.9" y="320.3">22</text><text x="314.4" y="319.8">34</text><text x="273.8" y="344.2">37</text><text x="419" y="214.5">5</text><text x="458" y="255">2</text><use href="#one" x="470.76" y="255"/><text x="561.3" y="307">24</text><text x="510.6" y="339.5">35</text><text x="184.5" y="376.5">33</text><use href="#one" x="211.55" y="405.9"/><text x="224.31" y="405.9">2</text><text x="289" y="487.5">4</text><use href="#one" x="293.95" y="511.3"/><text x="306.71" y="511.3">9</text><use href="#one" x="432.55" y="399.5"/><text x="445.31" y="399.5">0</text><text x="441.5" y="460.5">30</text><text x="338.7" y="479.5">28</text><text x="468.5" y="368.5">20</text><text x="517.4" y="375.8">33</text><text x="580.6" y="415.2">30</text><use href="#one" x="569.55" y="474.8"/><text x="582.31" y="474.8">4</text><text x="563" y="502.5">29</text><text x="702" y="233.9">36</text><text x="835" y="236.3">42:5</text><text x="802.7" y="298.3">42:4</text><text x="755" y="319.7">42:3</text><text x="705" y="346.5">42:2</text><text x="660" y="388.9">42</text><text x="660" y="407.3">42:</text><use href="#one" x="692.03" y="407.3"/><text x="981.9" y="395.3">8</text><text x="982.6" y="415">8:</text><use href="#one" x="1001.86" y="415"/><text x="815.2" y="532.3">5</text><text x="877.7" y="509.7">35</text><text x="1031.5" y="535.9">2</text><use href="#one" x="1044.26" y="535.9"/><text x="1065" y="507.3">24</text><use href="#one" x="671.85" y="535.3"/><text x="684.61" y="535.3">3</text><use href="#one" x="348.25" y="566.1"/><text x="361.01" y="566.1">6</text><use href="#one" x="404.55" y="599.5"/><text x="417.31" y="599.5">5</text><text x="156.9" y="585.1">27</text><text x="185.5" y="690.7">2</text><text x="176" y="727">37</text><text x="411" y="712.7">3</text><use href="#one" x="423.76" y="712.7"/><text x="287" y="756.3">3</text><use href="#one" x="299.76" y="756.3"/><text x="373.7" y="792.9">7</text><text x="97.7" y="717.7">25</text><text x="305.2" y="818.5">25</text><text x="307" y="959.7">3</text><text x="35.5" y="993.5">38</text><text x="469.9" y="663.3">23</text><text x="605.7" y="675.3">6</text><text x="615.8" y="692.5">34</text><text x="420.8" y="809.6">37</text><use href="#one" x="449.45" y="892.1"/><text x="685.8" y="894.4">27</text><text x="612.9" y="925.9">3</text><use href="#one" x="625.66" y="925.9"/><text x="719.8" y="579.5">37</text><text x="763.5" y="592.7">20</text><text x="740" y="616.5">4</text><text x="849.8" y="632">25</text><text x="856.5" y="654">32</text><text x="940.2" y="615.8">32</text><text x="913" y="660.7">34</text><use href="#one" x="942.55" y="680.9"/><text x="955.31" y="680.9">8</text><text x="764.4" y="683.5">22</text><text x="802.3" y="698.9">4:2</text><use href="#one" x="827.55" y="732.3"/><text x="840.31" y="732.3">7</text><text x="953" y="708.7">34</text><text x="866" y="757.7">30</text><text x="723.5" y="779.4">30</text><text x="969" y="799.7">33</text><use href="#one" x="753.55" y="831.5"/><text x="766.31" y="831.5">9</text><use href="#one" x="900.05" y="838"/><text x="912.81" y="838">0</text><use href="#one" x="814.05" y="860.9"/><text x="826.81" y="860.9">2</text><text x="859" y="860.9">33</text><text x="1156" y="562.1">42:5</text><text x="1111.9" y="583.5">42:4</text><text x="1026.5" y="638.3">42:2</text><text x="1231.7" y="640.5">36</text><text x="1154.9" y="660.7">42:3</text><text x="1031.5" y="730.5">42</text><text x="1031.5" y="749">42:</text><use href="#one" x="1063.53" y="749"/><text x="1160" y="833.8">36</text><text x="1205" y="858.3">26</text><text x="990.7" y="926.1">30</text><use href="#one" x="1120.25" y="929.3"/><use href="#one" x="1133.01" y="929.3"/><text x="1047.6" y="964.3">33</text><use href="#one" x="993.05" y="1015.1"/><text x="1005.81" y="1015.1">0</text></g>
</svg>
</body></html>
